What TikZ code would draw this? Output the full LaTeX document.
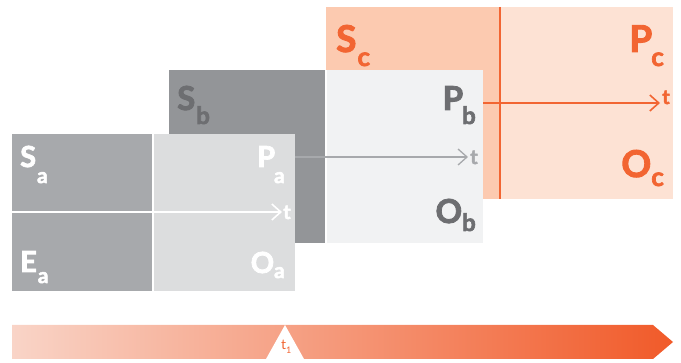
\documentclass[tikz,border=0pt]{standalone}
\usepackage{fontspec}
\setmainfont{Lato}
\newfontfamily\heavyfont{Lato}[UprightFont=* Bold, FakeBold=2.5]
\usetikzlibrary{arrows.meta}
\definecolor{greyA}{HTML}{A7A9AC}
\definecolor{paleA}{HTML}{DCDDDE}
\definecolor{greyB}{HTML}{939598}
\definecolor{paleB}{HTML}{F1F2F3}
\definecolor{inkB}{HTML}{6D6E71}
\definecolor{lineB}{HTML}{A7A9AC}
\definecolor{peachC}{HTML}{FCCAB0}
\definecolor{paleC}{HTML}{FDE2D4}
\definecolor{orangeC}{HTML}{F26532}
\definecolor{barL}{HTML}{F9D4C7}
\definecolor{barR}{HTML}{F15A29}
% subscript sizes for the three stages
\newcommand\subA{\fontsize{21}{21}\selectfont}
\newcommand\subB{\fontsize{24}{24}\selectfont}
\newcommand\subC{\fontsize{26}{26}\selectfont}
% main letter, kern, drop, subscript
\newcommand\stagelbl[4]{#1\kern#2\lower#3\hbox{#4}}
\begin{document}
\begin{tikzpicture}[x=1pt,y=-1pt,
  panel/.style={anchor=north west, inner sep=0pt, outer sep=0pt, draw=none},
  timeline/.style={line width=1.6pt, -{Straight Barb[length=9pt,width=16pt]}},
  lbl/.style={inner sep=0pt, font=\heavyfont\fontsize{#1}{#1}\selectfont},
  tlbl/.style={anchor=base west, inner sep=0pt, font=\heavyfont\fontsize{20}{20}\selectfont},
]
\useasboundingbox (0,0) rectangle (681,363);

% ---- stage C (back layer) ----
\node[panel, fill=peachC, minimum width=174pt, minimum height=192pt] (cL) at (326,7) {};
\node[panel, fill=paleC,  minimum width=173pt, minimum height=192pt] (cR) at (500,7) {};
\draw[orangeC, line width=1.6pt] (cR.north west) -- (cR.south west);
\node[lbl=37, text=orangeC, anchor=base west] (Sc) at (336,52) {\stagelbl{S}{1pt}{14pt}{\subC c}};
\node[lbl=37, text=orangeC, anchor=base east] (Pc) at (664,52) {\stagelbl{P}{-1pt}{14pt}{\subC c}};
\node[lbl=37, text=orangeC, anchor=base east] (Oc) at (664,177) {\stagelbl{O}{0pt}{9pt}{\subC c}};

% ---- stage B (middle layer) ----
\node[panel, fill=greyB, minimum width=156pt, minimum height=173pt] (bL) at (169,70) {};
\node[panel, fill=paleB, minimum width=156pt, minimum height=173pt] (bR) at (327,70) {};
\draw[white, line width=1.5pt] (326,70) -- (326,243);
\coordinate (c-t0) at (483,103);
\coordinate (c-t1) at (660,103);
\draw[timeline, orangeC] (c-t0) -- (c-t1);
\node[tlbl, text=orangeC] (tc) at (662,104) {t};
\node[lbl=33, text=inkB, anchor=base west] (Sb) at (177,110) {\stagelbl{S}{1pt}{14pt}{\subB b}};
\node[lbl=33, text=inkB, anchor=base east] (Pb) at (476,110) {\stagelbl{P}{-1pt}{14pt}{\subB b}};
\node[lbl=33, text=inkB, anchor=base east] (Ob) at (476,223) {\stagelbl{O}{0pt}{8pt}{\subB b}};

% ---- stage A (front layer) ----
\node[panel, fill=greyA, minimum width=141pt, minimum height=157pt] (aL) at (12,134) {};
\node[panel, fill=paleA, minimum width=142pt, minimum height=157pt] (aR) at (153,134) {};
\coordinate (b-t0) at (295,157);
\coordinate (b-t1) at (468,157);
\draw[timeline, lineB, line width=1.3pt] (b-t0) -- (b-t1);
\node[tlbl, text=lineB] (tb) at (470,164) {t};
\draw[white, line width=1.6pt] (aR.north west) -- (aR.south west);
\coordinate (a-t0) at (12,212);
\coordinate (a-t1) at (282,212);
\draw[timeline, white] (a-t0) -- (a-t1);
\node[tlbl, text=white] (ta) at (283,219) {t};
\node[lbl=29, text=white, anchor=base west] (Sa) at (20,167) {\stagelbl{S}{1pt}{16pt}{\subA a}};
\node[lbl=29, text=white, anchor=base east] (Pa) at (285,167) {\stagelbl{P}{-1pt}{16pt}{\subA a}};
\node[lbl=29, text=white, anchor=base west] (Ea) at (20,272) {\stagelbl{E}{1pt}{11pt}{\subA a}};
\node[lbl=29, text=white, anchor=base east] (Oa) at (285,273) {\stagelbl{O}{0pt}{5pt}{\subA a}};

% ---- time bar ----
\shade[left color=barL, right color=barR]
  (12,325) -- (653,325) -- (673,342) -- (653,359) -- (12,359) -- cycle;
\fill[white] (266,359) -- (285,325) -- (304,359) -- cycle;
\node[anchor=base west, inner sep=0pt, text=orangeC, font=\fontsize{14}{14}\selectfont] (t1) at (281,350)
  {t\raisebox{-4pt}{\fontsize{9}{9}\selectfont 1}};
\end{tikzpicture}
\end{document}
